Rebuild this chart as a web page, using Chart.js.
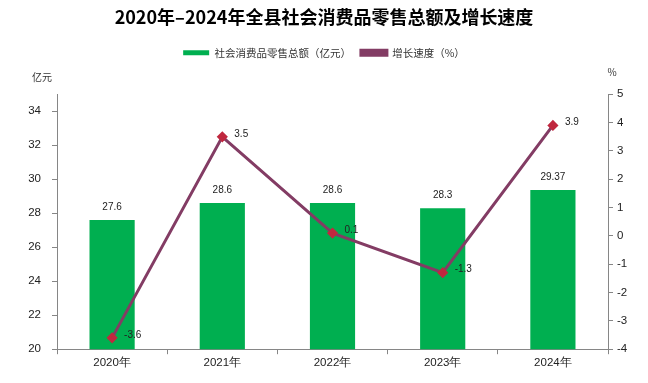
<!DOCTYPE html>
<html>
<head>
<meta charset="utf-8">
<script src="https://cdn.jsdelivr.net/npm/chart.js@4"></script>
<style>
  html, body { margin: 0; padding: 0; background: #fff; }
  #wrap { width: 648px; height: 383px; }
</style>
</head>
<body>
<div id="wrap"><canvas id="salesChart" width="648" height="383"></canvas></div>
<script>
const years = ["2020年", "2021年", "2022年", "2023年", "2024年"];
const salesTotal = [27.6, 28.6, 28.6, 28.3, 29.37];
const growthRate = [-3.6, 3.5, 0.1, -1.3, 3.9];

const axisGray = '#868686';
const tickFont = { family: 'Liberation Sans, Arial, sans-serif', size: 11.5 };

// value labels on bars and points
const valueLabels = {
    id: 'valueLabels',
    afterDatasetsDraw(chart) {
        const ctx = chart.ctx;
        ctx.save();
        ctx.font = '10px "Liberation Sans", Arial, sans-serif';
        ctx.fillStyle = '#222';
        ctx.textBaseline = 'middle';
        chart.getDatasetMeta(0).data.forEach(function (bar, i) {
            ctx.textAlign = 'center';
            ctx.fillText(String(salesTotal[i]), bar.x, bar.y - 13);
        });
        chart.getDatasetMeta(1).data.forEach(function (pt, i) {
            ctx.textAlign = 'left';
            ctx.fillText(String(growthRate[i]), pt.x + 12, pt.y - 3);
        });
        // axis unit titles
        ctx.font = '10px "Noto Sans CJK SC", sans-serif';
        ctx.fillStyle = '#333';
        ctx.textAlign = 'center';
        ctx.fillText('亿元', 42, 77);
        ctx.fillText('%', 612, 72);
        ctx.restore();
    }
};

const ctx = document.getElementById('salesChart').getContext('2d');
new Chart(ctx, {
    data: {
        labels: years,
        datasets: [{
            type: 'bar',
            label: '社会消费品零售总额（亿元）',
            data: salesTotal,
            backgroundColor: '#00AF50',
            yAxisID: 'y',
            categoryPercentage: 1,
            barPercentage: 0.41,
            order: 1
        }, {
            type: 'line',
            label: '增长速度（%）',
            data: growthRate,
            borderColor: '#833C64',
            backgroundColor: '#833C64',
            borderWidth: 3,
            pointStyle: 'rectRot',
            pointRadius: 3.5,
            pointBackgroundColor: '#C0283F',
            pointBorderColor: '#C0283F',
            yAxisID: 'y1',
            tension: 0,
            order: 0
        }]
    },
    options: {
        responsive: false,
        animation: false,
        layout: { padding: { bottom: 11 } },
        plugins: {
            title: {
                display: true,
                text: '2020年–2024年全县社会消费品零售总额及增长速度',
                color: '#000',
                font: { family: '"Noto Sans CJK SC", sans-serif', size: 18, weight: 'bold' },
                padding: { top: 6, bottom: 10 }
            },
            subtitle: {
                display: true,
                text: '',
                weight: 500,
                font: { size: 1 },
                padding: { top: 25, bottom: 0 }
            },
            legend: {
                display: true,
                labels: {
                    boxWidth: 26,
                    boxHeight: 5,
                    color: '#333',
                    padding: 10,
                    font: { family: '"Noto Sans CJK SC", sans-serif', size: 10.5 },
                    sort: function (a, b) { return a.datasetIndex - b.datasetIndex; }
                }
            },
            tooltip: { enabled: false }
        },
        scales: {
            x: {
                offset: true,
                grid: {
                    display: true,
                    offset: true,
                    drawOnChartArea: false,
                    tickLength: 5,
                    color: axisGray
                },
                border: { color: axisGray },
                ticks: { color: '#222', font: tickFont, padding: 2 }
            },
            y: {
                position: 'left',
                min: 20,
                max: 35,
                afterFit: function (scale) { scale.width = 57; },
                grid: { drawOnChartArea: false, tickLength: 5, color: axisGray },
                border: { color: axisGray },
                ticks: {
                    stepSize: 2,
                    color: '#222',
                    font: tickFont,
                    padding: 11,
                    callback: function (v) { return v === 35 ? null : v; }
                }
            },
            y1: {
                position: 'right',
                min: -4,
                max: 5,
                afterFit: function (scale) { scale.width = 40; },
                grid: { drawOnChartArea: false, tickLength: 5, color: axisGray },
                border: { color: axisGray },
                ticks: { stepSize: 1, color: '#222', font: tickFont, padding: 4 }
            }
        }
    },
    plugins: [valueLabels]
});
</script>
</body>
</html>
